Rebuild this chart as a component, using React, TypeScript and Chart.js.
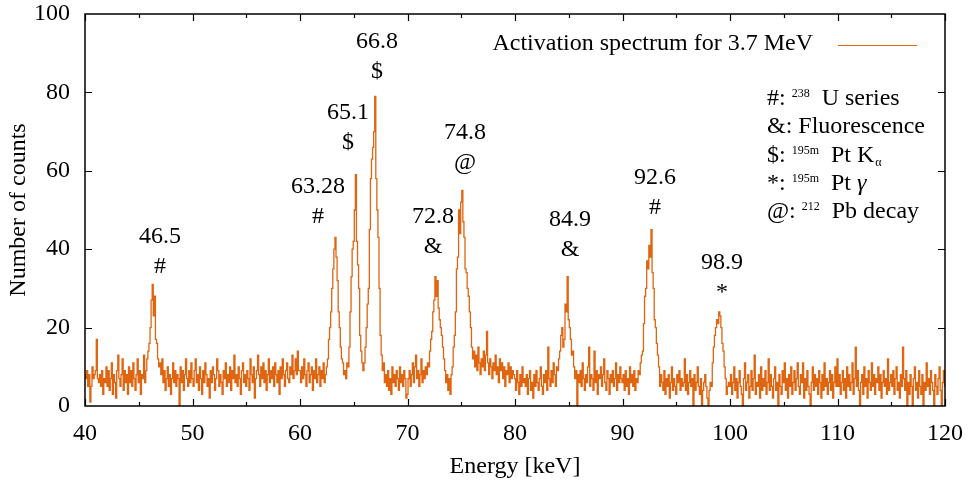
import React, { useEffect, useRef } from 'react';
import { Chart, registerables } from 'chart.js';

Chart.register(...registerables);

// Channel energies: E = 40.0 keV + i * 0.1 keV
const E_START = 40;
const E_STEP = 0.1;

// counts per channel, 40.0–49.9 keV
const counts40 = [8,7,9,5,8,1,5,10,7,8, 9,17,7,6,8,5,9,3,7,6, 10,5,9,4,7,11,3,8,6,2, 9,13,7,5,8,12,4,9,6,8, 3,10,6,9,5,11,7,4,8,12, 6,9,3,8,7,13,6,9,12,14, 16,20,27,31,23,28,17,16,12,10, 11,8,12,6,9,4,7,10,5,8, 3,7,11,6,9,5,8,7,0,10, 6,9,4,8,12,7,5,9,6,11];
// 50.0–59.9 keV
const counts50 = [7,5,9,12,6,8,4,10,7,3, 9,6,11,8,5,7,2,9,6,10, 8,4,7,12,9,5,8,6,3,9, 7,11,5,8,6,10,4,9,7,13, 6,8,5,10,7,3,9,11,6,8, 5,9,7,4,12,8,6,10,2,7, 9,13,8,5,10,7,11,6,9,4, 8,12,6,9,7,10,5,11,8,6, 9,3,10,7,12,8,5,9,11,7, 6,10,8,13,7,9,12,8,14,9];
// 60.0–69.9 keV
const counts60 = [9,6,10,7,12,8,5,9,11,6, 8,10,4,9,7,12,6,8,10,5, 9,7,11,6,8,10, 12,17,20,24,30,35,40,43,38,32, 24,20,15,12,11,8,9,7,11,10, 15,24,33,40,42,50,59,42,36,30, 18,14,11,9, 11,15,20,26,30,45,58,63,66,70, 79,58,50,43,30,18,13,9,11,6, 8,5,9,4,7,3,10,6,8,5, 9,7,4,10,6,8,5,9,7,2];
// 70.0–79.9 keV
const counts70 = [3,7,9,5,8,11,6,10,13,7, 9,5,8,12,6,9,7,10,8,11, 10,14,17,19,24,27,33,28,32,25, 22,20,18,15,12,9,6,8,4,7, 3,8,10,15,18,24,35,38,50,44, 52,55,47,43,35,34,30,28,24,20, 15,12,14,10,13,9,15,11,8,12, 10,14,9,13,19,11,8,12,10,7, 11,9,13,8,10,6,12,9,11,7, 10,5,9,8,11,6,10,7,9,8];
// 80.0–89.9 keV
const counts80 = [7,4,9,6,3,8,5,10,6,7, 5,8,3,7,9,4,6,2,8,5, 9,6,4,7,10,5,3,8,6,9, 4,15,7,5,9,6,11,8,5,10, 9,12,14,18,20,15,17,26,24,33, 22,20,17,13,14,10,7,9,0,8, 6,9,5,11,7,4,8,6,10,15, 5,8,7,4,14,6,9,3,8,7, 10,5,8,12,6,4,9,7,3,8, 6,9,5,7,11,4,8,6,10,7];
// 90.0–99.9 keV
const counts90 = [6,8,4,9,5,7,3,10,6,8, 5,9,4,7,6,9, 8,11,13,14,21,28,30,37,35,41,38,45,34,30,22,20,16,13,10,5,8, 6,4,9,3,7,5,8,2,6,10,4,7,5,3,8,6,9,4,7,5, 6,12,4,8,3,6,9,5,7,0, 8,4,6,10,5,3,7,0,4,6, 8,5,2,0,4,6,5, 11,15,18,20,22,21,24,23,20,16,14,10,7,3,5,6];
// 100.0–109.9 keV
const counts100 = [5,8,3,6,10,4,7,2,6,9, 5,3,0,7,11,4,6,8,2,5, 9,4,7,13,3,6,5,8,2,10, 4,7,5,9,3,6,12,4,8,5, 2,7,10,4,6,0,8,5,3,9, 6,11,4,7,2,8,5,10,3,6, 9,4,7,11,5,3,8,6,11,2, 7,4,9,5,3,0,6,10,4,8, 5,7,3,9,6,2,8,4,11,5, 7,3,6,9,4,8,2,6,10,5];
// 110.0–120.0 keV
const counts110 = [12,5,8,3,6,9,4,7,2,10, 5,8,4,6,11,3,7,15,5,9, 4,0,6,8,3,10,5,7,2,9, 6,4,11,5,8,3,7,6,10,4, 8,2,6,9,5,7,3,12,4,6, 8,5,9,3,7,10,4,6,2,8, 5,15,7,4,9,0,6,3,8,5, 0,7,10,4,6,2,9,5,3,8, 0,6,4,11,5,7,3,9,6,4, 0,8,5,3,7,10,4,0,6,9, 5];

// Peak annotations (energy label, marker, anchor in data coordinates)
const peakNames = ['46.5', '63.28', '65.1', '66.8', '72.8', '74.8', '84.9', '92.6', '98.9'];
const peakMarks = ['#', '#', '$', '$', '&', '@', '&', '#', '*'];
const peakLabelE = [46.98, 61.67, 64.47, 67.16, 72.37, 75.35, 85.12, 93.02, 99.26];
const peakLabelCounts = [43.1, 55.9, 74.7, 92.9, 48.2, 69.6, 47.4, 58.2, 36.5];

// Key text
const keyPrefix = ['#:', '&: Fluorescence', '$:', '*:', '@:'];
const keySup = ['238', '', '195m', '195m', '212'];
const keyName = ['U series', '', 'Pt K', 'Pt ', 'Pb decay'];
const keySub = ['', '', 'α', '', ''];
const keyGreek = ['', '', '', 'γ', ''];

const seriesLabel = 'Activation spectrum for 3.7 MeV';
const xTitle = 'Energy [keV]';
const yTitle = 'Number of counts';

const SERIF = '"Liberation Serif", "Times New Roman", Times, serif';
const FS = 24;
const LINE_COLOR = '#df6511';

const overlayPlugin = {
  id: 'overlay',
  afterDraw(chart: any) {
    const { ctx, chartArea: a, scales } = chart;
    const xs = scales.x;
    const ys = scales.y;
    ctx.save();
    // frame
    ctx.strokeStyle = '#000';
    ctx.lineWidth = 1.5;
    ctx.strokeRect(a.left, a.top, a.right - a.left, a.bottom - a.top);
    // ticks (inward, mirrored)
    ctx.lineWidth = 1.2;
    ctx.beginPath();
    const xt = xs.ticks.map((t: any) => t.value);
    for (let k = 0; k < xt.length; k++) {
      const px = Math.round(xs.getPixelForValue(xt[k])) + 0.5;
      ctx.moveTo(px, a.bottom); ctx.lineTo(px, a.bottom - 7);
      ctx.moveTo(px, a.top); ctx.lineTo(px, a.top + 7);
      if (k < xt.length - 1) {
        const pm = Math.round(xs.getPixelForValue((xt[k] + xt[k + 1]) / 2)) + 0.5;
        ctx.moveTo(pm, a.bottom); ctx.lineTo(pm, a.bottom - 4);
        ctx.moveTo(pm, a.top); ctx.lineTo(pm, a.top + 4);
      }
    }
    ys.ticks.forEach((t: any) => {
      if (t.value <= ys.min || t.value >= ys.max) return;
      const py = Math.round(ys.getPixelForValue(t.value)) + 0.5;
      ctx.moveTo(a.left, py); ctx.lineTo(a.left + 7, py);
      ctx.moveTo(a.right, py); ctx.lineTo(a.right - 7, py);
    });
    ctx.stroke();

    // peak annotations
    ctx.fillStyle = '#000';
    ctx.font = `${FS}px ${SERIF}`;
    ctx.textAlign = 'center';
    ctx.textBaseline = 'middle';
    peakNames.forEach((n, i) => {
      const px = xs.getPixelForValue(peakLabelE[i]);
      const py = ys.getPixelForValue(peakLabelCounts[i]);
      ctx.fillText(n, px, py);
      ctx.fillText(peakMarks[i], px, py + 30);
    });

    // legend
    ctx.textAlign = 'right';
    ctx.textBaseline = 'alphabetic';
    ctx.fillText(seriesLabel, a.right - 132, a.top + 36);
    ctx.strokeStyle = LINE_COLOR;
    ctx.lineWidth = 1;
    ctx.beginPath();
    ctx.moveTo(a.right - 107, a.top + 31.5);
    ctx.lineTo(a.right - 28, a.top + 31.5);
    ctx.stroke();

    // key block
    ctx.textAlign = 'left';
    const x0 = a.right - 178;
    const rowBase = [91, 119, 147.5, 176, 204];
    keyPrefix.forEach((p, i) => {
      const base = a.top + rowBase[i];
      let cx = x0;
      ctx.font = `${FS}px ${SERIF}`;
      ctx.fillText(p, cx, base);
      cx += ctx.measureText(p).width;
      if (keySup[i]) {
        cx += 6;
        ctx.font = `12px ${SERIF}`;
        ctx.fillText(keySup[i], cx, base - 8);
        cx += ctx.measureText(keySup[i]).width + 12;
      }
      if (keyName[i]) {
        ctx.font = `${FS}px ${SERIF}`;
        ctx.fillText(keyName[i], cx, base);
        cx += ctx.measureText(keyName[i]).width;
      }
      if (keySub[i]) {
        ctx.font = `12px ${SERIF}`;
        ctx.fillText(keySub[i], cx + 1, base + 4);
      }
      if (keyGreek[i]) {
        ctx.font = `italic ${FS}px ${SERIF}`;
        ctx.fillText(keyGreek[i], cx, base);
      }
    });
    ctx.restore();
  },
};

export default function App() {
  const ref = useRef<HTMLCanvasElement | null>(null);

  useEffect(() => {
    if (!ref.current) return;
    const all = [counts40, counts50, counts60, counts70, counts80, counts90, counts100, counts110].flat();
    const points = all.map((c, i) => ({ x: Math.round((E_START + i * E_STEP) * 100) / 100, y: c }));
    const chart = new Chart(ref.current, {
      type: 'line',
      data: {
        datasets: [
          {
            label: seriesLabel,
            data: points,
            stepped: 'middle',
            borderColor: LINE_COLOR,
            borderWidth: 1.3,
            pointRadius: 0,
            fill: false,
          },
        ],
      },
      options: {
        responsive: false,
        animation: false,
        devicePixelRatio: 1,
        parsing: false,
        normalized: true,
        layout: { padding: { top: 14, right: 26, left: 0, bottom: 0 } },
        plugins: {
          legend: { display: false },
          tooltip: { enabled: false },
        },
        scales: {
          x: {
            type: 'linear',
            min: 40,
            max: 120,
            grid: { display: false, drawTicks: false },
            border: { display: false },
            ticks: {
              stepSize: 10,
              autoSkip: false,
              maxRotation: 0,
              padding: 13,
              color: '#000',
              font: { family: SERIF, size: FS },
            },
            title: {
              display: true,
              text: xTitle,
              color: '#000',
              font: { family: SERIF, size: FS },
              padding: { top: 0, bottom: 4 },
            },
            afterFit(scale: any) {
              scale.height = 79;
              scale.paddingLeft = 0;
              scale.paddingRight = 0;
            },
          },
          y: {
            type: 'linear',
            min: 0,
            max: 100,
            grid: { display: false, drawTicks: false },
            border: { display: false },
            ticks: {
              stepSize: 20,
              padding: 15,
              color: '#000',
              font: { family: SERIF, size: FS },
            },
            title: {
              display: true,
              text: yTitle,
              color: '#000',
              font: { family: SERIF, size: FS },
              padding: { top: 4, bottom: 0 },
            },
            afterFit(scale: any) {
              scale.width = 85;
              scale.paddingTop = 0;
              scale.paddingBottom = 0;
            },
          },
        },
      },
      plugins: [overlayPlugin],
    } as any);
    return () => chart.destroy();
  }, []);

  return (
    <div style={{ position: 'fixed', left: 0, top: 0, width: 971, height: 485, background: '#fff' }}>
      <canvas ref={ref} width={971} height={485} style={{ width: 971, height: 485, display: 'block' }} />
    </div>
  );
}
